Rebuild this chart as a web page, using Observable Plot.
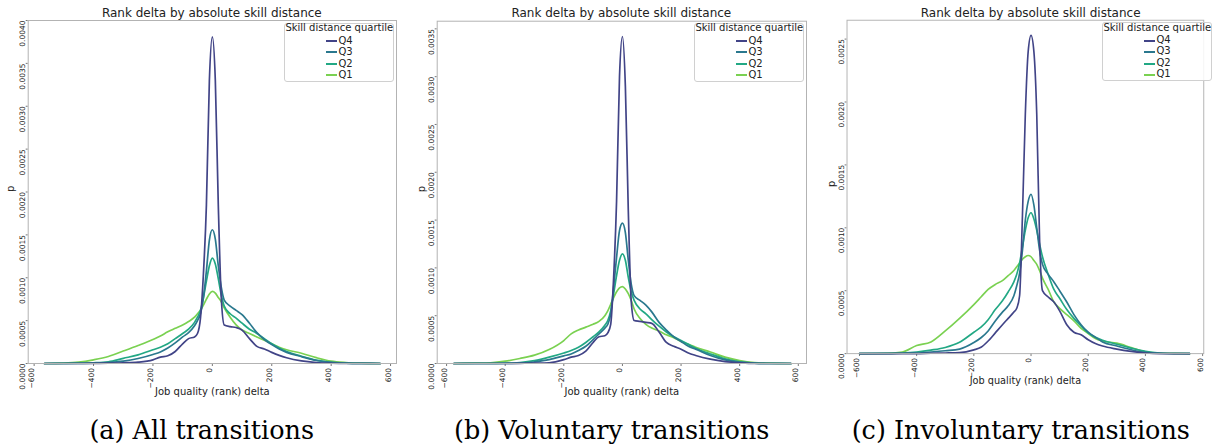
<!DOCTYPE html>
<html>
<head>
<meta charset="utf-8">
<script src="https://cdn.jsdelivr.net/npm/d3@7"></script>
<script src="https://cdn.jsdelivr.net/npm/@observablehq/plot@0.6"></script>
<style>
  html, body { margin: 0; padding: 0; background: #fff; overflow: hidden; }
  #root { position: relative; width: 1213px; height: 446px; overflow: hidden; font-family: "DejaVu Sans", sans-serif; color: #222; }
  .panel { position: absolute; top: 0; }
  .title { position: absolute; top: 6.4px; width: 400px; text-align: center; font-size: 12px; line-height: 14px; white-space: nowrap; }
  .caption { position: absolute; top: 418.2px; width: 500px; text-align: center; font-family: "DejaVu Serif", serif; font-size: 25.5px; line-height: 25px; color: #000; white-space: nowrap; }
  .legend { position: absolute; width: 108px; height: 57px; border: 1px solid #d0d0d0; border-radius: 3px; background: rgba(255,255,255,0.85); font-size: 10px; }
  .legend .lt { position: absolute; left: 0; top: -1.5px; width: 100%; text-align: center; line-height: 12px; white-space: nowrap; }
  .legend .row { position: absolute; left: 40.7px; height: 12px; line-height: 12px; display: flex; align-items: center; white-space: nowrap; }
  .legend .sw { display: inline-block; width: 11px; height: 2px; margin-right: 1.5px; margin-top: 1px; }
</style>
</head>
<body>
<div id="root"></div>
<script>
// ---------------- data ----------------
const quartiles = ["Q4", "Q3", "Q2", "Q1"];
const lineColors = ["#414487", "#2a788e", "#22a884", "#7ad151"];
const drawOrder = ["Q1", "Q2", "Q3", "Q4"];

const xTicks = [-600, -400, -200, 0, 200, 400, 600];
const xTickLabels = ["−600", "−400", "−200", "0", "200", "400", "600"];
const yTicksAll = [0, 0.0005, 0.0010, 0.0015, 0.0020, 0.0025, 0.0030, 0.0035, 0.0040];
const yTicksVol = [0, 0.0005, 0.0010, 0.0015, 0.0020, 0.0025, 0.0030, 0.0035];
const yTicksInv = [0, 0.0005, 0.0010, 0.0015, 0.0020, 0.0025];

const panelTitle = "Rank delta by absolute skill distance";
const xLabel = "Job quality (rank) delta";
const yLabel = "p";
const legendTitle = "Skill distance quartile";
const captions = ["(a) All transitions", "(b) Voluntary transitions", "(c) Involuntary transitions"];

// x grids (rank delta) for each panel
const gridAll = [-565,-500,-450,-400,-350,-300,-250,-200,-175,-150,-125,-100,-80,-60,-50,-40,-30,-20,-10,0,10,20,30,40,60,80,100,125,150,175,200,225,250,300,350,400,450,500,565];
const gridVol = [-575,-500,-450,-400,-350,-300,-250,-200,-175,-150,-125,-100,-80,-60,-50,-40,-30,-20,-10,0,10,20,30,40,60,80,100,125,150,175,200,225,250,300,350,400,450,500,575];
const gridInv = [-600,-500,-450,-400,-350,-300,-250,-200,-175,-150,-125,-100,-80,-60,-50,-40,-30,-20,-10,0,10,20,30,40,60,80,100,125,150,175,200,225,250,300,350,400,450,500,555];

// (a) All transitions
const allQ1 = [0,0.000004,0.000015,0.000043,0.000082,0.000145,0.00021,0.00028,0.00032,0.00037,0.00041,0.00045,0.00049,0.00054,0.00058,0.00062,0.00068,0.00075,0.00081,0.00084,0.00082,0.00077,0.00072,0.00065,0.00054,0.00045,0.00039,0.00035,0.00031,0.00027,0.00023,0.00019,0.00016,0.00012,0.000068,0.000027,0.000011,0.000004,0];
const allQ2 = [0,0.000002,0.000004,0.000008,0.00002,0.00006,0.0001,0.00016,0.00019,0.00023,0.00029,0.00035,0.0004,0.00048,0.00054,0.00062,0.00077,0.00096,0.00114,0.00123,0.00116,0.00099,0.0008,0.00067,0.00058,0.00053,0.00047,0.0004,0.00035,0.00029,0.00023,0.00018,0.00014,0.000085,0.00004,0.000014,0.000004,0.000001,0];
const allQ3 = [0,0,0.000002,0.000004,0.000011,0.000027,0.000058,0.000105,0.000135,0.00018,0.00024,0.00031,0.00036,0.00044,0.0005,0.00058,0.00077,0.00108,0.00144,0.00156,0.00145,0.00114,0.00089,0.00074,0.00067,0.00062,0.00057,0.00047,0.00036,0.00028,0.00022,0.00017,0.00013,0.00008,0.000035,0.000012,0.000004,0.000001,0];
const allQ4 = [0,0,0,0.000002,0.000004,0.000008,0.000016,0.000043,0.000075,0.00009,0.00014,0.00023,0.00029,0.00031,0.00035,0.00053,0.00105,0.00185,0.0033,0.00381,0.0033,0.00185,0.00077,0.00045,0.00043,0.00042,0.00039,0.00029,0.0002,0.00017,0.00013,0.000095,0.000067,0.00003,0.000011,0.000003,0,0,0];

// (b) Voluntary transitions
const volQ1 = [0,0.000004,0.000008,0.000024,0.000052,0.000087,0.000146,0.00024,0.00031,0.00035,0.00038,0.00041,0.00044,0.0005,0.00055,0.00062,0.00069,0.00075,0.00079,0.000805,0.00078,0.00073,0.00066,0.00057,0.00047,0.00041,0.00037,0.00034,0.0003,0.00027,0.00023,0.0002,0.00017,0.00012,0.000066,0.00003,0.00001,0.000004,0];
const volQ2 = [0,0.000001,0.000002,0.000003,0.00001,0.00003,0.000066,0.00011,0.000136,0.00017,0.00022,0.00028,0.00033,0.0004,0.00045,0.00055,0.00073,0.00092,0.00108,0.001147,0.00108,0.0009,0.00075,0.00066,0.00057,0.00052,0.00046,0.00039,0.00033,0.00028,0.00024,0.0002,0.00016,0.0001,0.000049,0.000017,0.000004,0.000001,0];
const volQ3 = [0,0,0,0.000001,0.000003,0.000017,0.00004,0.00008,0.0001,0.000136,0.00018,0.00025,0.00031,0.00037,0.00041,0.00052,0.0008,0.00111,0.00139,0.001468,0.00137,0.00108,0.00083,0.00071,0.00066,0.00061,0.00054,0.00043,0.00035,0.00028,0.00023,0.00018,0.00015,0.000084,0.000038,0.000014,0.000003,0,0];
const volQ4 = [0,0,0,0,0.000002,0.000004,0.000008,0.00004,0.000066,0.000084,0.00013,0.00022,0.00028,0.00029,0.00032,0.00041,0.0009,0.0017,0.003,0.00342,0.0029,0.0016,0.00065,0.00045,0.00044,0.00043,0.00042,0.00033,0.00022,0.00018,0.00015,0.00011,0.000084,0.000045,0.00002,0.000007,0,0,0];

// (c) Involuntary transitions
const invQ1 = [0,0.000003,0.000013,0.000065,0.000093,0.00018,0.00028,0.00039,0.00045,0.00051,0.00055,0.00058,0.00062,0.00066,0.00069,0.00072,0.00075,0.00077,0.00078,0.00077,0.00074,0.00071,0.00066,0.0006,0.00051,0.00041,0.00036,0.00031,0.00026,0.0002,0.00016,0.00012,0.0001,0.000083,0.000049,0.000015,0.000005,0.000002,0];
const invQ2 = [0,0.000002,0.000005,0.000013,0.000028,0.000049,0.00009,0.00017,0.00021,0.00027,0.00035,0.00042,0.00049,0.00057,0.00063,0.00072,0.00085,0.00098,0.00108,0.00112,0.00107,0.00098,0.00087,0.00077,0.00063,0.00051,0.00044,0.00035,0.00028,0.00022,0.000165,0.00013,0.000106,0.000075,0.000044,0.000018,0.000005,0.000001,0];
const invQ3 = [0,0,0.000003,0.000005,0.000013,0.000023,0.000036,0.000088,0.000126,0.00018,0.00026,0.00033,0.00038,0.00046,0.00054,0.00064,0.00082,0.00106,0.00121,0.001267,0.00118,0.001,0.00082,0.00071,0.00063,0.00057,0.0005,0.00041,0.00031,0.00023,0.00017,0.00013,0.000093,0.00006,0.000031,0.00001,0.000003,0,0];
const invQ4 = [0,0,0,0,0.000003,0.000005,0.000008,0.00003,0.00005,0.0001,0.000165,0.00023,0.00028,0.00033,0.00036,0.00046,0.0011,0.0019,0.0024,0.00253,0.0024,0.0019,0.0009,0.0005,0.00045,0.00041,0.00034,0.00023,0.00017,0.00015,0.00011,0.00008,0.00006,0.000036,0.000018,0.000005,0,0,0];

// ---------------- layout ----------------
const panels = [
  { left: 0,   width: 404, mL: 27.7, mR: 8,  mT: 20,   xDomain: [-620, 620], yDomain: [0, 0.0040],  yTicks: yTicksAll, grid: gridAll,
    series: { Q1: allQ1, Q2: allQ2, Q3: allQ3, Q4: allQ4 }, pDx: -17, legend: [284.3, 22.7], capCenter: 201.7 },
  { left: 409, width: 405, mL: 27.7, mR: 8,  mT: 20.7, xDomain: [-632, 628], yDomain: [0, 0.00358], yTicks: yTicksVol, grid: gridVol,
    series: { Q1: volQ1, Q2: volQ2, Q3: volQ3, Q4: volQ4 }, pDx: -15, legend: [694.3, 22.7], capCenter: 611.7 },
  { left: 819, width: 405, mL: 28.3, mR: 10, mT: 20.3, xDomain: [-643.5, 604], yDomain: [0, 0.00265], yTicks: yTicksInv, grid: gridInv,
    series: { Q1: invQ1, Q2: invQ2, Q3: invQ3, Q4: invQ4 }, pDx: -15.5, legend: [1102.3, 22.3], capCenter: 1020.8 }
];

const root = document.getElementById("root");

panels.forEach((p, pi) => {
  const data = drawOrder.flatMap(q => p.grid.map((x, i) => ({ x, y: p.series[q][i], q })));
  const chart = Plot.plot({
    width: p.width,
    height: 400,
    marginLeft: p.mL,
    marginRight: p.mR,
    marginTop: p.mT,
    marginBottom: 37,
    style: { fontFamily: "DejaVu Sans", background: "transparent", overflow: "visible", color: "#222" },
    x: { domain: p.xDomain },
    y: { domain: p.yDomain },
    color: { domain: quartiles, range: lineColors },
    marks: [
      Plot.axisX({ ticks: xTicks, tickSize: 3, tickFormat: () => "", label: null, stroke: "#777" }),
      Plot.axisY({ ticks: p.yTicks, tickSize: 2, tickFormat: () => "", label: null, stroke: "#777" }),
      Plot.line(data, { x: "x", y: "y", z: "q", stroke: "q", strokeWidth: 1.7, curve: "monotone-x" }),
      Plot.frame({ stroke: "#b3b3b3", strokeWidth: 1 }),
      Plot.text(xTicks, { x: d => d, frameAnchor: "bottom", dy: 4.5, text: (d, i) => xTickLabels[i],
        rotate: -90, textAnchor: "end", fontSize: 7.5, fill: "#222" }),
      Plot.text(p.yTicks, { y: d => d, frameAnchor: "left", dx: -5.5, text: d => d.toFixed(4),
        rotate: -90, textAnchor: "end", fontSize: 7.5, fill: "#222" }),
      Plot.text([yLabel], { frameAnchor: "left", dx: p.pDx, rotate: -90, fontSize: 10, fill: "#222" }),
      Plot.text([xLabel], { frameAnchor: "bottom", dy: 31.5, fontSize: 10, fill: "#222" })
    ]
  });
  const wrap = document.createElement("div");
  wrap.className = "panel";
  wrap.style.left = p.left + "px";
  wrap.appendChild(chart);
  root.appendChild(wrap);

  // title
  const axisCenter = p.left + p.mL + (p.width - p.mL - p.mR) / 2;
  const t = document.createElement("div");
  t.className = "title";
  t.style.left = (axisCenter - 200) + "px";
  t.textContent = panelTitle;
  root.appendChild(t);

  // legend
  const lg = document.createElement("div");
  lg.className = "legend";
  lg.style.left = p.legend[0] + "px";
  lg.style.top = p.legend[1] + "px";
  const lt = document.createElement("div");
  lt.className = "lt";
  lt.textContent = legendTitle;
  lg.appendChild(lt);
  quartiles.forEach((q, i) => {
    const row = document.createElement("div");
    row.className = "row";
    row.style.top = (11 + Math.round(i * 11.4)) + "px";
    const sw = document.createElement("span");
    sw.className = "sw";
    sw.style.background = lineColors[i];
    row.appendChild(sw);
    const tx = document.createElement("span");
    tx.textContent = q;
    row.appendChild(tx);
    lg.appendChild(row);
  });
  root.appendChild(lg);

  // caption
  const c = document.createElement("div");
  c.className = "caption";
  c.style.left = (p.capCenter - 250) + "px";
  c.textContent = captions[pi];
  root.appendChild(c);
});
</script>
</body>
</html>
